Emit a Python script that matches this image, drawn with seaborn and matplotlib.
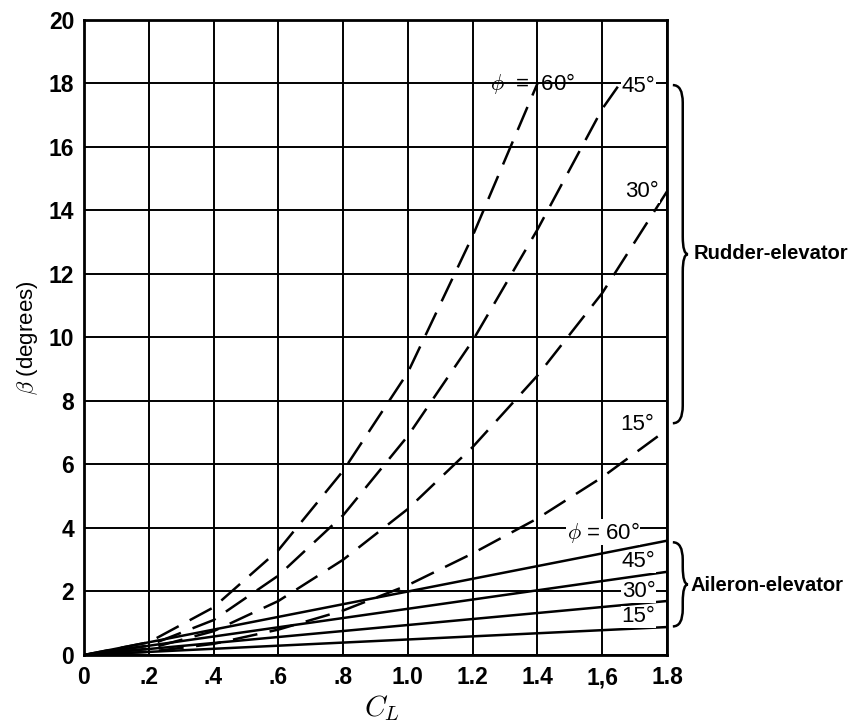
import numpy as np
import pandas as pd
import seaborn as sns
import matplotlib.pyplot as plt
from matplotlib.path import Path
from matplotlib.patches import PathPatch
from matplotlib.transforms import blended_transform_factory

# rudder-elevator (dashed) curves
cl_60r = [0, 0.2, 0.4, 0.6, 0.8, 1.0, 1.2, 1.4]
beta_60r = [0, 0.4, 1.5, 3.3, 5.8, 8.9, 13.2, 18.0]
cl_45r = [0, 0.2, 0.4, 0.6, 0.8, 1.0, 1.2, 1.4, 1.6, 1.655]
beta_45r = [0, 0.3, 1.1, 2.5, 4.4, 6.9, 9.9, 13.4, 17.2, 18.0]
cl_30r = [0, 0.2, 0.4, 0.6, 0.8, 1.0, 1.2, 1.4, 1.6, 1.8]
beta_30r = [0, 0.2, 0.75, 1.7, 3.0, 4.6, 6.55, 8.8, 11.4, 14.6]
cl_15r = [0, 0.2, 0.4, 0.6, 0.8, 1.0, 1.2, 1.4, 1.6, 1.8]
beta_15r = [0, 0.1, 0.35, 0.8, 1.4, 2.2, 3.2, 4.3, 5.6, 7.1]

# aileron-elevator (solid) lines
cl_ail = [0, 1.8]
beta_60a = [0, 3.6]
beta_45a = [0, 2.62]
beta_30a = [0, 1.7]
beta_15a = [0, 0.88]

x_ticks = [0, 0.2, 0.4, 0.6, 0.8, 1.0, 1.2, 1.4, 1.6, 1.8]
x_labels = ['0', '.2', '.4', '.6', '.8', '1.0', '1.2', '1.4', '1,6', '1.8']
y_ticks = [0, 2, 4, 6, 8, 10, 12, 14, 16, 18, 20]

sns.set_style('white')
plt.rcParams['font.family'] = ['Liberation Sans', 'DejaVu Sans']
plt.rcParams['mathtext.fontset'] = 'cm'
plt.rcParams['text.color'] = 'black'
plt.rcParams['axes.labelcolor'] = 'black'
plt.rcParams['xtick.color'] = 'black'
plt.rcParams['ytick.color'] = 'black'

fig, ax = plt.subplots(figsize=(8.64, 7.22), dpi=100)
fig.subplots_adjust(left=0.0972, right=0.772, top=0.9723, bottom=0.0928)

dash = (0, (10, 5))
for x, y in [(cl_60r, beta_60r), (cl_45r, beta_45r), (cl_30r, beta_30r), (cl_15r, beta_15r)]:
    sns.lineplot(x=x, y=y, ax=ax, color='black', lw=1.8, linestyle=dash, zorder=3)
for y in [beta_60a, beta_45a, beta_30a, beta_15a]:
    sns.lineplot(x=cl_ail, y=y, ax=ax, color='black', lw=1.8, zorder=3)

ax.set_xlim(0, 1.8)
ax.set_ylim(0, 20)
ax.set_xticks(x_ticks)
ax.set_xticklabels(x_labels)
ax.set_yticks(y_ticks)
ax.tick_params(labelsize=16.5, length=0)
ax.tick_params(axis='x', pad=8)
ax.tick_params(axis='y', pad=7)
for t in ax.get_xticklabels() + ax.get_yticklabels():
    t.set_fontweight('bold')
ax.grid(True, color='black', lw=1.4)
ax.set_axisbelow(True)
for s in ax.spines.values():
    s.set_color('black')
    s.set_linewidth(2)

ax.set_ylabel(r'$\beta$ (degrees)', fontsize=16, labelpad=6)
ax.set_xlabel(r'$C_L$', fontsize=21)
ax.xaxis.set_label_coords(0.511, -0.06)

lab = dict(fontsize=16, va='center', ha='left', zorder=4)
box = dict(facecolor='white', edgecolor='none', pad=0.5)
ax.text(1.253, 18.0, r'$\phi$  =  60°', **lab)
ax.text(1.66, 17.9, '45°', bbox=box, **lab)
ax.text(1.672, 14.6, '30°', bbox=box, **lab)
ax.text(1.655, 7.25, '15°', bbox=box, **lab)
ax.text(1.49, 3.87, r'$\phi$ = 60°', bbox=box, **lab)
ax.text(1.66, 2.93, '45°', bbox=box, **lab)
ax.text(1.66, 2.0, '30°', bbox=box, **lab)
ax.text(1.66, 1.2, '15°', bbox=box, **lab)

# curly braces on the right
tr = blended_transform_factory(ax.transAxes, ax.transData)


def brace(y1, y2, x0=1.010, x1=1.027, xt=1.036, r=0.55):
    ym = (y1 + y2) / 2
    verts = [(x0, y1), (x1, y1), (x1, y1 - r), (x1, ym + r),
             (x1, ym), (xt, ym), (x1, ym), (x1, ym - r),
             (x1, y2 + r), (x1, y2), (x0, y2)]
    codes = [Path.MOVETO, Path.CURVE3, Path.CURVE3, Path.LINETO,
             Path.CURVE3, Path.CURVE3, Path.CURVE3, Path.CURVE3,
             Path.LINETO, Path.CURVE3, Path.CURVE3]
    ax.add_patch(PathPatch(Path(verts, codes), transform=tr, fill=False,
                           lw=1.8, color='black', clip_on=False))


brace(17.95, 7.3)
brace(3.55, 0.9)
ax.text(1.045, 12.65, 'Rudder-elevator', transform=tr, fontsize=14.5,
        fontweight='bold', va='center', ha='left')
ax.text(1.040, 2.2, 'Aileron-elevator', transform=tr, fontsize=14.5,
        fontweight='bold', va='center', ha='left')

plt.savefig('out.png', dpi=100)
